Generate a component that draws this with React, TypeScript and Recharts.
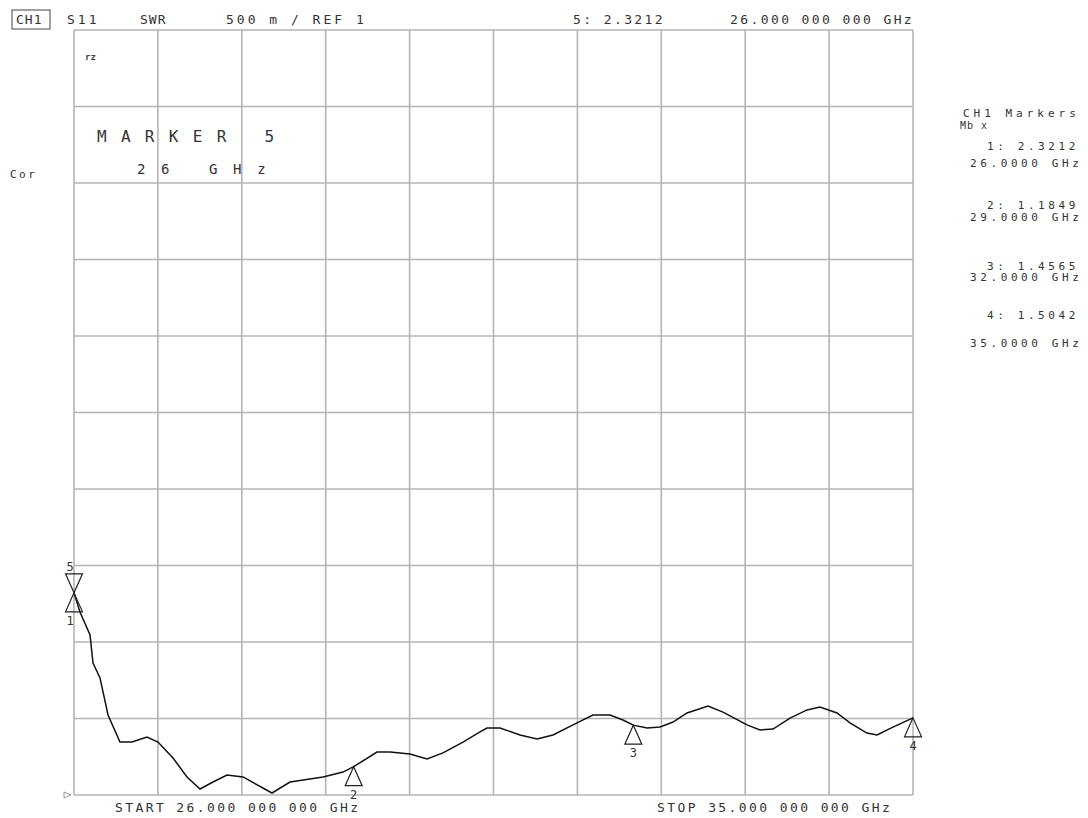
import React from 'react';
import {
    LineChart,
    Line,
    XAxis,
    YAxis,
    CartesianGrid,
    ReferenceDot,
} from 'recharts';

// Trace: frequency (GHz) and SWR
const freqGHz = [
    26.0, 26.064, 26.172, 26.204, 26.279, 26.365, 26.493, 26.622, 26.783, 26.901,
    27.062, 27.212, 27.352, 27.491, 27.641, 27.813, 28.124, 28.317, 28.671, 28.886,
    29.0, 29.25, 29.39, 29.604, 29.787, 29.958, 30.173, 30.355, 30.43, 30.57,
    30.784, 30.967, 31.138, 31.396, 31.567, 31.75, 31.889, 32.0, 32.147, 32.286,
    32.426, 32.576, 32.801, 32.962, 33.219, 33.359, 33.498, 33.681, 33.863, 34.002,
    34.185, 34.324, 34.506, 34.614, 34.785, 35.0,
];
const swr = [
    2.3212, 2.196, 2.046, 1.863, 1.765, 1.523, 1.346, 1.346, 1.379, 1.346,
    1.242, 1.118, 1.039, 1.085, 1.131, 1.118, 1.013, 1.085, 1.118, 1.15,
    1.1849, 1.281, 1.281, 1.268, 1.235, 1.275, 1.346, 1.412, 1.438, 1.438,
    1.392, 1.366, 1.392, 1.471, 1.523, 1.523, 1.49, 1.4565, 1.438, 1.444,
    1.477, 1.536, 1.582, 1.542, 1.458, 1.425, 1.431, 1.503, 1.556, 1.575,
    1.536, 1.471, 1.405, 1.392, 1.444, 1.5042,
];

// 10 divisions, 0.9 GHz and 500 m each
const xTicks = [26, 26.9, 27.8, 28.7, 29.6, 30.5, 31.4, 32.3, 33.2, 34.1, 35];
const yTicks = [1, 1.5, 2, 2.5, 3, 3.5, 4, 4.5, 5, 5.5, 6];

// Markers 1-4 (up triangles) and marker 5 (down triangle)
const markerIds = ['1', '2', '3', '4'];
const markerFreq = [26, 29, 32, 35];
const markerSwr = [2.3212, 1.1849, 1.4565, 1.5042];
const marker5 = { f: 26, v: 2.3212 };

const markerTable = [
    ['1: 2.3212', '26.0000 GHz'],
    ['2: 1.1849', '29.0000 GHz'],
    ['3: 1.4565', '32.0000 GHz'],
    ['4: 1.5042', '35.0000 GHz'],
];

const chartData = freqGHz.map((f, i) => ({ f, swr: swr[i] }));

const MONO = '"DejaVu Sans Mono", "Liberation Mono", monospace';
const INK = '#333';

// eslint-disable-next-line @typescript-eslint/no-explicit-any
const UpMarker = (props: any) => {
    const { cx, cy, id } = props;
    const w = 8.5;
    const h = 19;
    return (
        <g>
            <path
                d={`M${cx},${cy} L${cx - w},${cy + h} L${cx + w},${cy + h} Z`}
                fill="none"
                stroke="#222"
                strokeWidth={1.2}
            />
            <text
                x={id === '1' ? cx - 4 : cx}
                y={cy + h + 13}
                textAnchor="middle"
                fontFamily={MONO}
                fontSize={12}
                fill={INK}
            >
                {id}
            </text>
        </g>
    );
};

// eslint-disable-next-line @typescript-eslint/no-explicit-any
const DownMarker = (props: any) => {
    const { cx, cy } = props;
    const w = 8.5;
    const h = 19;
    return (
        <g>
            <path
                d={`M${cx},${cy} L${cx - w},${cy - h} L${cx + w},${cy - h} Z`}
                fill="none"
                stroke="#222"
                strokeWidth={1.2}
            />
            <text x={cx - 4} y={cy - h - 3} textAnchor="middle" fontFamily={MONO} fontSize={12} fill={INK}>
                5
            </text>
        </g>
    );
};

// eslint-disable-next-line @typescript-eslint/no-explicit-any
const RefPosMarker = (props: any) => {
    const { cx, cy } = props;
    return (
        <path
            d={`M${cx - 10},${cy - 3} L${cx - 3},${cy} L${cx - 10},${cy + 3} Z`}
            fill="none"
            stroke="#999"
            strokeWidth={1}
        />
    );
};

const Overlay: React.FC = () => {
    const hdr = { fontFamily: MONO, fontSize: 13, fill: INK, letterSpacing: 2.4 };
    const side = { fontFamily: MONO, fontSize: 11, fill: INK, letterSpacing: 3.6 };
    const tableY = [[150, 167], [209, 221], [270, 281], [319, 347]];
    return (
        <svg
            width={1088}
            height={818}
            style={{ position: 'absolute', left: 0, top: 0, pointerEvents: 'none' }}
        >
            <rect x={12} y={10} width={38} height={19} fill="none" stroke="#444" strokeWidth={1} />
            <text x={16} y={24} {...hdr} letterSpacing={1}>CH1</text>
            <text x={67} y={24} {...hdr} letterSpacing={3}>S11</text>
            <text x={140} y={24} {...hdr} letterSpacing={1}>SWR</text>
            <text x={226} y={24} {...hdr} letterSpacing={3}>500 m / REF 1</text>
            <text x={573} y={24} {...hdr}>5: 2.3212</text>
            <text x={730} y={24} {...hdr}>26.000 000 000 GHz</text>

            <text x={10} y={178} {...side} letterSpacing={2.5}>Cor</text>

            <text x={85} y={60} fontFamily={MONO} fontSize={9} fontWeight="bold" fill="#444">rz</text>
            <text x={97} y={142} fontFamily={MONO} fontSize={16} fill={INK} letterSpacing={14.3}>MARKER 5</text>
            <text x={137} y={174} fontFamily={MONO} fontSize={14} fill={INK} letterSpacing={15.6}>26 GHz</text>

            <text x={963} y={117} {...side} letterSpacing={4}>CH1 Markers</text>
            <text x={960} y={129} {...side} fontSize={10} letterSpacing={1}>Mb x</text>
            {markerTable.map((row, i) => (
                <g key={i}>
                    <text x={987} y={tableY[i][0]} {...side}>{row[0]}</text>
                    <text x={970} y={tableY[i][1]} {...side}>{row[1]}</text>
                </g>
            ))}

            <text x={115} y={812} {...hdr}>START 26.000 000 000 GHz</text>
            <text x={657} y={812} {...hdr}>STOP 35.000 000 000 GHz</text>
        </svg>
    );
};

export default function App() {
    return (
        <div style={{ position: 'absolute', left: 0, top: 0, width: 1088, height: 818, background: '#fff' }}>
            <LineChart
                width={1088}
                height={818}
                data={chartData}
                margin={{ top: 30, right: 175, bottom: 23, left: 74 }}
            >
                <CartesianGrid
                    stroke="#b4b4b4"
                    strokeWidth={1.6}
                    horizontalValues={yTicks}
                    verticalValues={xTicks}
                />
                <XAxis type="number" dataKey="f" domain={[26, 35]} ticks={xTicks} hide />
                <YAxis type="number" domain={[1, 6]} ticks={yTicks} hide />
                <Line
                    type="linear"
                    dataKey="swr"
                    stroke="#111"
                    strokeWidth={1.5}
                    dot={false}
                    isAnimationActive={false}
                />
                {markerIds.map((id, i) => (
                    <ReferenceDot
                        key={id}
                        x={markerFreq[i]}
                        y={markerSwr[i]}
                        r={0}
                        shape={(p: any) => <UpMarker {...p} id={id} />}
                    />
                ))}
                <ReferenceDot x={marker5.f} y={marker5.v} r={0} shape={(p: any) => <DownMarker {...p} />} />
                <ReferenceDot x={26} y={1} r={0} shape={(p: any) => <RefPosMarker {...p} />} />
            </LineChart>
            <Overlay />
        </div>
    );
}
